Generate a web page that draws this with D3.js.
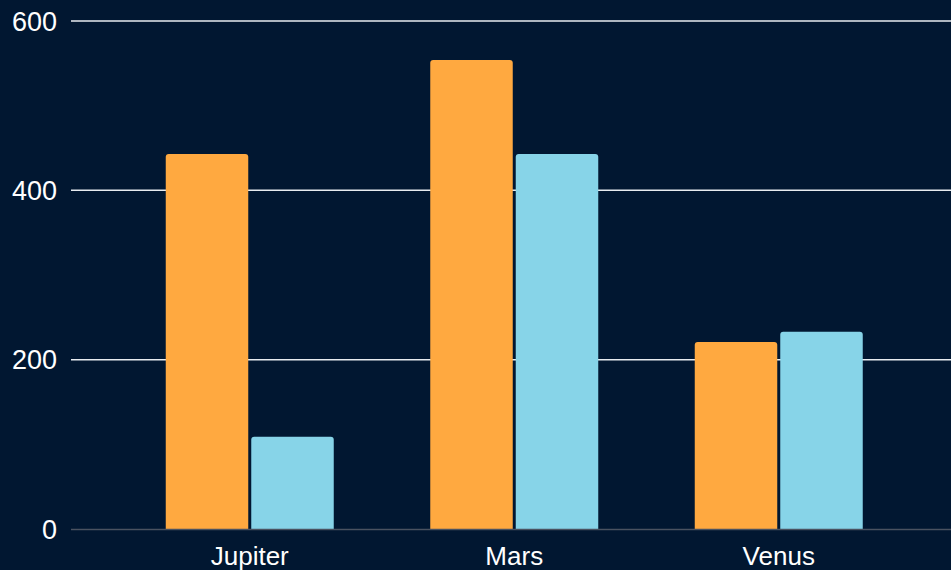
<!DOCTYPE html>
<html>
<head>
<meta charset="utf-8">
<script src="https://cdn.jsdelivr.net/npm/d3@7"></script>
<style>
  html, body { margin: 0; padding: 0; background: #011731; }
  svg { display: block; font-family: "Liberation Sans", Arial, sans-serif; }
</style>
</head>
<body>
<div id="chart"></div>
<script>
// data
var categories = ["Jupiter", "Mars", "Venus"];
var seriesNames = ["a", "b"];
var seriesA = [443, 554, 221];
var seriesB = [109, 443, 233];
var yTicks = [0, 200, 400, 600];

var width = 951, height = 570;
var colors = {a: "#FFA940", b: "#87D4E8"};

var svg = d3.select("#chart").append("svg")
    .attr("width", width)
    .attr("height", height);

svg.append("rect").attr("width", width).attr("height", height).style("fill", "#011731");

//scales
var y = d3.scaleLinear().domain([0, 600]).range([529, 21]);
var x0 = d3.scaleBand().domain(categories).range([117.5, 911]);
var x1 = d3.scaleBand().domain(seriesNames).range([0, 168]).paddingInner(0.035);

//grid lines
svg.append("g").selectAll("line")
    .data(yTicks.filter(function(d){ return d > 0; }))
    .enter().append("line")
    .attr("x1", 71).attr("x2", width)
    .attr("y1", function(d){ return y(d); })
    .attr("y2", function(d){ return y(d); })
    .style("stroke", "#e8ecf0")
    .style("stroke-width", 1.5);

//tick labels
svg.append("g").selectAll("text")
    .data(yTicks)
    .enter().append("text")
    .attr("x", 57)
    .attr("y", function(d){ return y(d); })
    .attr("dy", "0.36em")
    .style("text-anchor", "end")
    .style("fill", "#ffffff")
    .style("font-size", "27px")
    .text(function(d){ return d; });

//bars with rounded top corners
function topRounded(x, yTop, w, h, r){
    r = Math.min(r, h);
    return "M" + x + "," + (yTop + h) +
        "V" + (yTop + r) +
        "Q" + x + "," + yTop + " " + (x + r) + "," + yTop +
        "H" + (x + w - r) +
        "Q" + (x + w) + "," + yTop + " " + (x + w) + "," + (yTop + r) +
        "V" + (yTop + h) + "Z";
}

var rows = categories.map(function(c, i){
    return {cat: c, values: [{key: "a", v: seriesA[i]}, {key: "b", v: seriesB[i]}]};
});

var groups = svg.append("g").selectAll("g")
    .data(rows)
    .enter().append("g")
    .attr("transform", function(d){
        return "translate(" + (x0(d.cat) + (x0.bandwidth() - 168) / 2) + ",0)";
    });

groups.selectAll("path")
    .data(function(d){ return d.values; })
    .enter().append("path")
    .attr("d", function(d){
        return topRounded(x1(d.key), y(d.v), x1.bandwidth(), y(0) - y(d.v), 3);
    })
    .style("fill", function(d){ return colors[d.key]; });

//baseline
svg.append("line")
    .attr("x1", 71).attr("x2", width)
    .attr("y1", y(0) + 0.5).attr("y2", y(0) + 0.5)
    .style("stroke", "#4a5260")
    .style("stroke-width", 1.5);

//category labels
svg.append("g").selectAll("text")
    .data(categories)
    .enter().append("text")
    .attr("x", function(d){ return x0(d) + x0.bandwidth() / 2; })
    .attr("y", 565)
    .style("text-anchor", "middle")
    .style("fill", "#ffffff")
    .style("font-size", "26px")
    .text(function(d){ return d; });
</script>
</body>
</html>
